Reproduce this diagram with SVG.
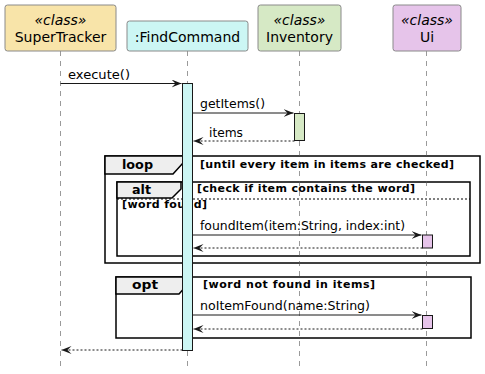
<svg xmlns="http://www.w3.org/2000/svg" width="485" height="374" viewBox="0 0 485 374">
  <style>
    .pbox { stroke: #8a8a8a; stroke-width: 1; }
    .pname { font-family: "DejaVu Sans", sans-serif; font-size: 14px; fill: #000; text-anchor: middle; }
    .stereo { font-family: "DejaVu Sans", sans-serif; font-size: 14px; font-style: italic; fill: #000; text-anchor: middle; }
    .life { stroke: #555; stroke-width: 0.6; stroke-dasharray: 5,5; fill: none; }
    .act { stroke: #181818; stroke-width: 1; }
    .msg { stroke: #181818; stroke-width: 1; fill: none; }
    .ret { stroke: #181818; stroke-width: 1; fill: none; stroke-dasharray: 2,2; }
    .mtext { font-family: "DejaVu Sans", sans-serif; font-size: 13px; fill: #000; }
    .frame { fill: none; stroke: #000; stroke-width: 1.5; }
    .tab { fill: #EEEEEE; stroke: #000; stroke-width: 1.5; }
    .ftitle { font-family: "DejaVu Sans", sans-serif; font-size: 13px; font-weight: bold; fill: #000; }
    .guard { font-family: "DejaVu Sans", sans-serif; font-size: 11px; font-weight: bold; fill: #000; }
    .sep { stroke: #000; stroke-width: 1; stroke-dasharray: 2,2; }
  </style>
  <defs>
    <marker id="arrow" viewBox="0 0 10 8" refX="10" refY="4" markerWidth="10" markerHeight="8" markerUnits="userSpaceOnUse" orient="auto">
      <polygon points="0,0 10,4 0,8 4,4" fill="#181818"/>
    </marker>
  </defs>

  <!-- combined fragments -->
  <g id="frame-loop">
    <rect class="frame" x="105" y="156" width="375" height="107"/>
    <polygon class="tab" points="105,156 183,156 183,163 173,174 105,174"/>
    <text class="ftitle" x="122" y="169" textLength="31" lengthAdjust="spacingAndGlyphs">loop</text>
    <text class="guard" x="200" y="168" textLength="254" lengthAdjust="spacing">[until every item in items are checked]</text>
  </g>
  <g id="frame-alt">
    <rect class="frame" x="117" y="182" width="353" height="74"/>
    <polygon class="tab" points="117,182 181,182 181,189 172,198 117,198"/>
    <text class="ftitle" x="132" y="194" textLength="19" lengthAdjust="spacingAndGlyphs">alt</text>
    <text class="guard" x="197" y="192" textLength="218" lengthAdjust="spacing">[check if item contains the word]</text>
    <line class="sep" x1="117" y1="199" x2="470" y2="199"/>
    <text class="guard" x="122" y="208" textLength="85" lengthAdjust="spacing">[word found]</text>
  </g>
  <g id="frame-opt">
    <rect class="frame" x="116" y="277" width="355" height="61"/>
    <polygon class="tab" points="116,277 188,277 188,284 179,294 116,294"/>
    <text class="ftitle" x="132" y="289" textLength="26" lengthAdjust="spacingAndGlyphs">opt</text>
    <text class="guard" x="203" y="288" textLength="172" lengthAdjust="spacing">[word not found in items]</text>
  </g>

  <!-- lifelines -->
  <g id="lifelines">
    <line class="life" x1="60.5" y1="51" x2="60.5" y2="370"/>
    <line class="life" x1="187.5" y1="51" x2="187.5" y2="370"/>
    <line class="life" x1="299.5" y1="51" x2="299.5" y2="370"/>
    <line class="life" x1="426.5" y1="51" x2="426.5" y2="370"/>
  </g>

  <!-- participants -->
  <g id="SuperTracker">
    <rect class="pbox" x="5" y="5" width="111" height="46" rx="2.5" fill="#F8E4A9"/>
    <text class="stereo" x="60.5" y="25">«class»</text>
    <text class="pname" x="60.5" y="42">SuperTracker</text>
  </g>
  <g id="FindCommand">
    <rect class="pbox" x="127" y="21" width="121" height="30" rx="2.5" fill="#CCF6F4"/>
    <text class="pname" x="187.5" y="42">:FindCommand</text>
  </g>
  <g id="Inventory">
    <rect class="pbox" x="258" y="5" width="83" height="46" rx="2.5" fill="#D6E9C5"/>
    <text class="stereo" x="299.5" y="25">«class»</text>
    <text class="pname" x="299.5" y="42">Inventory</text>
  </g>
  <g id="Ui">
    <rect class="pbox" x="393" y="5" width="68" height="46" rx="2.5" fill="#E6C4EA"/>
    <text class="stereo" x="427" y="25">«class»</text>
    <text class="pname" x="427" y="42">Ui</text>
  </g>

  <!-- activations -->
  <g id="activations">
    <rect class="act" x="182.5" y="83.5" width="10" height="267" fill="#CCF6F4"/>
    <rect class="act" x="294.5" y="113.5" width="10" height="27" fill="#D6E9C5"/>
    <rect class="act" x="422.5" y="235" width="10" height="13" fill="#E6C4EA"/>
    <rect class="act" x="422.5" y="315.5" width="10" height="13" fill="#E6C4EA"/>
  </g>

  <!-- messages -->
  <g id="connectors">
    <line class="msg" x1="60.5" y1="83.5" x2="181.5" y2="83.5" marker-end="url(#arrow)"/>
    <text class="mtext" x="68" y="79" textLength="62" lengthAdjust="spacingAndGlyphs">execute()</text>

    <line class="msg" x1="192.5" y1="113" x2="293.5" y2="113" marker-end="url(#arrow)"/>
    <text class="mtext" x="200" y="108" textLength="65" lengthAdjust="spacingAndGlyphs">getItems()</text>

    <line class="ret" x1="294.5" y1="141" x2="193.5" y2="141" marker-end="url(#arrow)"/>
    <text class="mtext" x="209" y="137" textLength="34" lengthAdjust="spacingAndGlyphs">items</text>

    <line class="msg" x1="192.5" y1="235" x2="421.5" y2="235" marker-end="url(#arrow)"/>
    <text class="mtext" x="200" y="230" textLength="205" lengthAdjust="spacingAndGlyphs">foundItem(item:String, index:int)</text>

    <line class="ret" x1="422.5" y1="248" x2="193.5" y2="248" marker-end="url(#arrow)"/>

    <line class="msg" x1="192.5" y1="315" x2="421.5" y2="315" marker-end="url(#arrow)"/>
    <text class="mtext" x="200" y="310" textLength="170" lengthAdjust="spacingAndGlyphs">noItemFound(name:String)</text>

    <line class="ret" x1="422.5" y1="329" x2="193.5" y2="329" marker-end="url(#arrow)"/>

    <line class="ret" x1="182.5" y1="350" x2="61.5" y2="350" marker-end="url(#arrow)"/>
  </g>
</svg>
